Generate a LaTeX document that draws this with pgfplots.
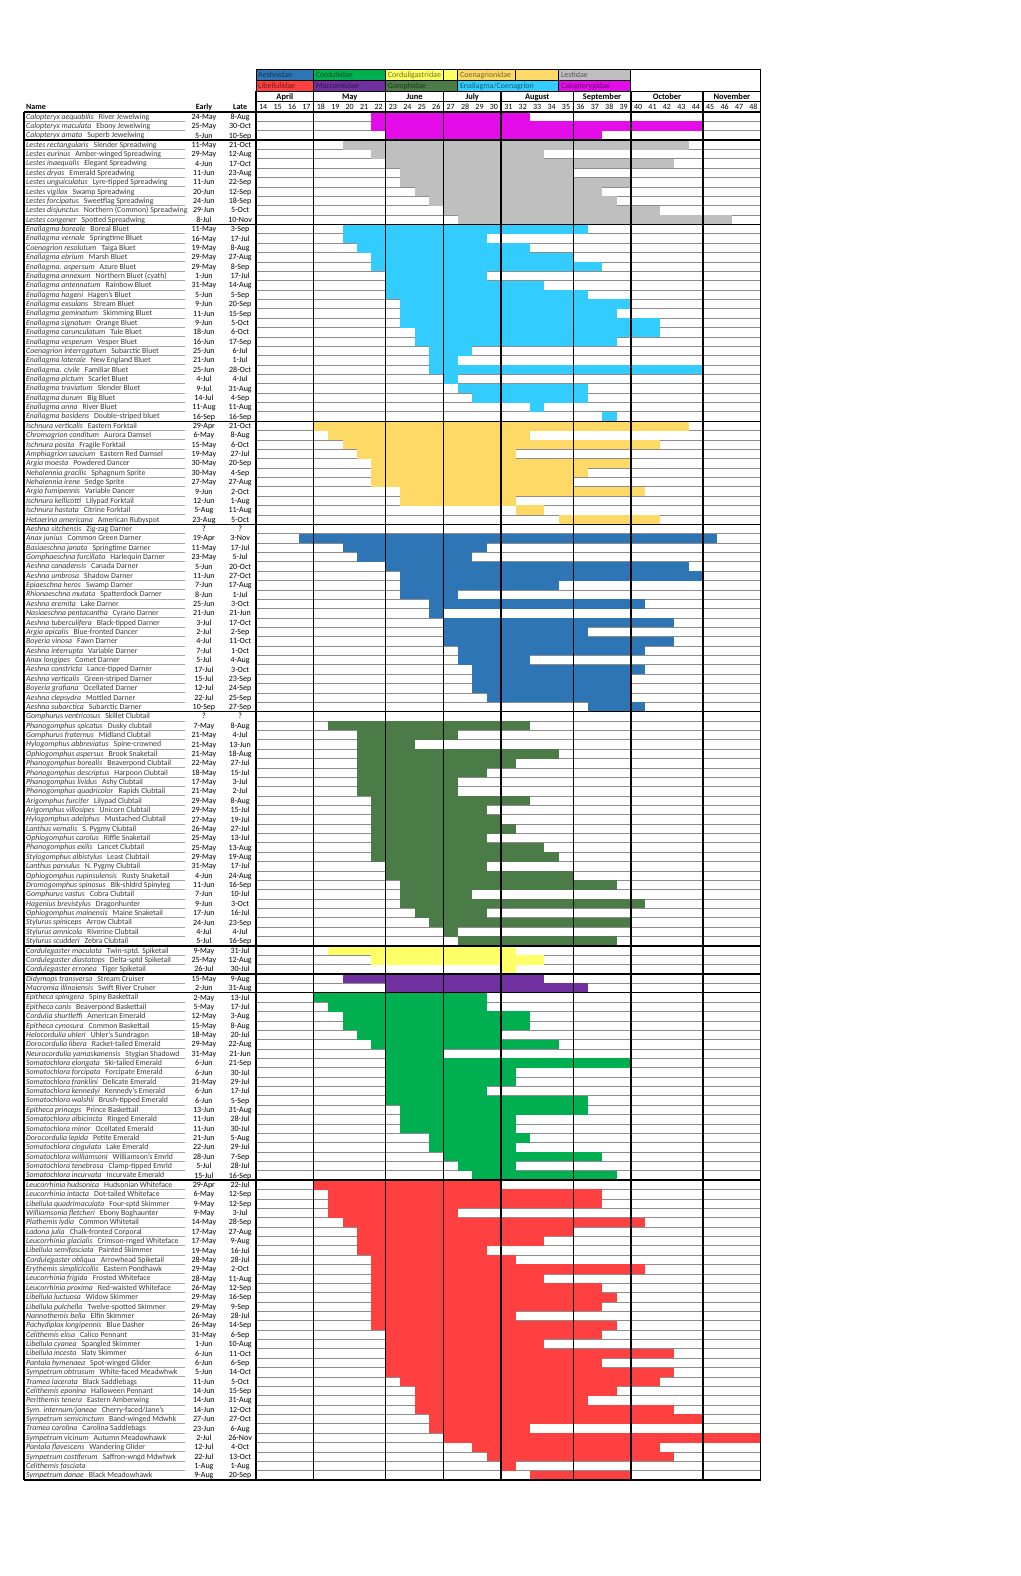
\documentclass[border=0pt]{standalone}
\usepackage{pgfplots}
\pgfplotsset{compat=1.18}
\usepackage{pgfplotstable}
\usepackage{fontspec}
\setmainfont{Carlito}

\definecolor{aesh}{HTML}{2E75B6}
\definecolor{cordu}{HTML}{00B050}
\definecolor{cordg}{HTML}{FFFF66}
\definecolor{coen}{HTML}{FFD966}
\definecolor{lest}{HTML}{BFBFBF}
\definecolor{libe}{HTML}{FF4040}
\definecolor{macro}{HTML}{7030A0}
\definecolor{gomph}{HTML}{4B7B46}
\definecolor{enal}{HTML}{33CCFF}
\definecolor{calo}{HTML}{E40CE8}

% species list: row, scientific name, common name, early, late
\pgfplotstableread[col sep=comma]{
row,sci,com,early,late
1,Calopteryx aequabilis,River Jewelwing,24-May,8-Aug
2,Calopteryx maculata,Ebony Jewelwing,25-May,30-Oct
3,Calopteryx amata,Superb Jewelwing,5-Jun,10-Sep
4,Lestes rectangularis,Slender Spreadwing,11-May,21-Oct
5,Lestes eurinus,Amber-winged Spreadwing,29-May,12-Aug
6,Lestes inaequalis,Elegant Spreadwing,4-Jun,17-Oct
7,Lestes dryas,Emerald Spreadwing,11-Jun,23-Aug
8,Lestes unguiculatus,Lyre-tipped Spreadwing,11-Jun,22-Sep
9,Lestes vigilax,Swamp Spreadwing,20-Jun,12-Sep
10,Lestes forcipatus,Sweetflag Spreadwing,24-Jun,18-Sep
11,Lestes disjunctus,Northern (Common) Spreadwing,29-Jun,5-Oct
12,Lestes congener,Spotted Spreadwing,8-Jul,10-Nov
13,Enallagma boreale,Boreal Bluet,11-May,3-Sep
14,Enallagma vernale,Springtime Bluet,16-May,17-Jul
15,Coenagrion resolutum,Taiga Bluet,19-May,8-Aug
16,Enallagma ebrium,Marsh Bluet,29-May,27-Aug
17,Enallagma. aspersum,Azure Bluet,29-May,8-Sep
18,Enallagma annexum,Northern Bluet (cyath),1-Jun,17-Jul
19,Enallagma antennatum,Rainbow Bluet,31-May,14-Aug
20,Enallagma hageni,Hagen's Bluet,5-Jun,5-Sep
21,Enallagma exsulans,Stream Bluet,9-Jun,20-Sep
22,Enallagma geminatum,Skimming Bluet,11-Jun,15-Sep
23,Enallagma signatum,Orange Bluet,9-Jun,5-Oct
24,Enallagma carunculatum,Tule Bluet,18-Jun,6-Oct
25,Enallagma vesperum,Vesper Bluet,16-Jun,17-Sep
26,Coenagrion interrogatum,Subarctic Bluet,25-Jun,6-Jul
27,Enallagma laterale,New England Bluet,21-Jun,1-Jul
28,Enallagma. civile,Familiar Bluet,25-Jun,28-Oct
29,Enallagma pictum,Scarlet Bluet,4-Jul,4-Jul
30,Enallagma traviatum,Slender Bluet,9-Jul,31-Aug
31,Enallagma durum,Big Bluet,14-Jul,4-Sep
32,Enallagma anna,River Bluet,11-Aug,11-Aug
33,Enallagma basidens,Double-striped bluet,16-Sep,16-Sep
34,Ischnura verticalis,Eastern Forktail,29-Apr,21-Oct
35,Chromagrion conditum,Aurora Damsel,6-May,8-Aug
36,Ischnura posita,Fragile Forktail,15-May,6-Oct
37,Amphiagrion saucium,Eastern Red Damsel,19-May,27-Jul
38,Argia moesta,Powdered Dancer,30-May,20-Sep
39,Nehalennia gracilis,Sphagnum Sprite,30-May,4-Sep
40,Nehalennia irene,Sedge Sprite,27-May,27-Aug
41,Argia fumipennis,Variable Dancer,9-Jun,2-Oct
42,Ischnura kellicotti,Lilypad Forktail,12-Jun,1-Aug
43,Ischnura hastata,Citrine Forktail,5-Aug,11-Aug
44,Hetaerina americana,American Rubyspot,23-Aug,5-Oct
45,Aeshna sitchensis,Zig-zag Darner,?,?
46,Anax junius,Common Green Darner,19-Apr,3-Nov
47,Basiaeschna janata,Springtime Darner,11-May,17-Jul
48,Gomphaeschna furcillata,Harlequin Darner,23-May,5-Jul
49,Aeshna canadensis,Canada Darner,5-Jun,20-Oct
50,Aeshna umbrosa,Shadow Darner,11-Jun,27-Oct
51,Epiaeschna heros,Swamp Darner,7-Jun,17-Aug
52,Rhionaeschna mutata,Spatterdock Darner,8-Jun,1-Jul
53,Aeshna eremita,Lake Darner,25-Jun,3-Oct
54,Nasiaeschna pentacantha,Cyrano Darner,21-Jun,21-Jun
55,Aeshna tuberculifera,Black-tipped Darner,3-Jul,17-Oct
56,Argia apicalis,Blue-fronted Dancer,2-Jul,2-Sep
57,Boyeria vinosa,Fawn Darner,4-Jul,11-Oct
58,Aeshna interrupta,Variable Darner,7-Jul,1-Oct
59,Anax longipes,Comet Darner,5-Jul,4-Aug
60,Aeshna constricta,Lance-tipped Darner,17-Jul,3-Oct
61,Aeshna verticalis,Green-striped Darner,15-Jul,23-Sep
62,Boyeria grafiana,Ocellated Darner,12-Jul,24-Sep
63,Aeshna clepsydra,Mottled Darner,22-Jul,25-Sep
64,Aeshna subarctica,Subarctic Darner,10-Sep,27-Sep
65,Gomphurus ventricosus,Skillet Clubtail,?,?
66,Phanogomphus spicatus,Dusky clubtail,7-May,8-Aug
67,Gomphurus fraternus,Midland Clubtail,21-May,4-Jul
68,Hylogomphus abbreviatus,Spine-crowned,21-May,13-Jun
69,Ophiogomphus aspersus,Brook Snaketail,21-May,18-Aug
70,Phanogomphus borealis,Beaverpond Clubtail,22-May,27-Jul
71,Phanogomphus descriptus,Harpoon Clubtail,18-May,15-Jul
72,Phanogomphus lividus,Ashy Clubtail,17-May,3-Jul
73,Phanogomphus quadricolor,Rapids Clubtail,21-May,2-Jul
74,Arigomphus furcifer,Lilypad Clubtail,29-May,8-Aug
75,Arigomphus villosipes,Unicorn Clubtail,29-May,15-Jul
76,Hylogomphus adelphus,Mustached Clubtail,27-May,19-Jul
77,Lanthus vernalis,S. Pygmy Clubtail,26-May,27-Jul
78,Ophiogomphus carolus,Riffle Snaketail,25-May,13-Jul
79,Phanogomphus exilis,Lancet Clubtail,25-May,13-Aug
80,Stylogomphus albistylus,Least Clubtail,29-May,19-Aug
81,Lanthus parvulus,N. Pygmy Clubtail,31-May,17-Jul
82,Ophiogomphus rupinsulensis,Rusty Snaketail,4-Jun,24-Aug
83,Dromogomphus spinosus,Blk-shldrd Spinyleg,11-Jun,16-Sep
84,Gomphurus vastus,Cobra Clubtail,7-Jun,10-Jul
85,Hagenius brevistylus,Dragonhunter,9-Jun,3-Oct
86,Ophiogomphus mainensis,Maine Snaketail,17-Jun,16-Jul
87,Stylurus spiniceps,Arrow Clubtail,24-Jun,23-Sep
88,Stylurus amnicola,Riverine Clubtail,4-Jul,4-Jul
89,Stylurus scudderi,Zebra Clubtail,5-Jul,16-Sep
90,Cordulegaster maculata,Twin-sptd. Spiketail,9-May,31-Jul
91,Cordulegaster diastatops,Delta-sptd Spiketail,25-May,12-Aug
92,Cordulegaster erronea,Tiger Spiketail,26-Jul,30-Jul
93,Didymops transversa,Stream Cruiser,15-May,9-Aug
94,Macromia illinoiensis,Swift River Cruiser,2-Jun,31-Aug
95,Epitheca spinigera,Spiny Baskettail,2-May,13-Jul
96,Epitheca canis,Beaverpond Baskettail,5-May,17-Jul
97,Cordulia shurtleffi,American Emerald,12-May,3-Aug
98,Epitheca cynosura,Common Baskettail,15-May,8-Aug
99,Helocordulia uhleri,Uhler's Sundragon,18-May,20-Jul
100,Dorocordulia libera,Racket-tailed Emerald,29-May,22-Aug
101,Neurocordulia yamaskanensis,Stygian Shadowd,31-May,21-Jun
102,Somatochlora elongata,Ski-tailed Emerald,6-Jun,21-Sep
103,Somatochlora forcipata,Forcipate Emerald,6-Jun,30-Jul
104,Somatochlora franklini,Delicate Emerald,31-May,29-Jul
105,Somatochlora kennedyi,Kennedy's Emerald,6-Jun,17-Jul
106,Somatochlora walshii,Brush-tipped Emerald,6-Jun,5-Sep
107,Epitheca princeps,Prince Baskettail,13-Jun,31-Aug
108,Somatochlora albicincta,Ringed Emerald,11-Jun,28-Jul
109,Somatochlora minor,Ocellated Emerald,11-Jun,30-Jul
110,Dorocordulia lepida,Petite Emerald,21-Jun,5-Aug
111,Somatochlora cingulata,Lake Emerald,22-Jun,29-Jul
112,Somatochlora williamsoni,Williamson's Emrld,28-Jun,7-Sep
113,Somatochlora tenebrosa,Clamp-tipped Emrld,5-Jul,28-Jul
114,Somatochlora incurvata,Incurvate Emerald,15-Jul,16-Sep
115,Leucorrhinia hudsonica,Hudsonian Whiteface,29-Apr,22-Jul
116,Leucorrhinia intacta,Dot-tailed Whiteface,6-May,12-Sep
117,Libellula quadrimaculata,Four-sptd Skimmer,9-May,12-Sep
118,Williamsonia fletcheri,Ebony Boghaunter,9-May,3-Jul
119,Plathemis lydia,Common Whitetail,14-May,28-Sep
120,Ladona julia,Chalk-fronted Corporal,17-May,27-Aug
121,Leucorrhinia glacialis,Crimson-rnged Whiteface,17-May,9-Aug
122,Libellula semifasciata,Painted Skimmer,19-May,16-Jul
123,Cordulegaster obliqua,Arrowhead Spiketail,28-May,28-Jul
124,Erythemis simplicicollis,Eastern Pondhawk,29-May,2-Oct
125,Leucorrhinia frigida,Frosted Whiteface,28-May,11-Aug
126,Leucorrhinia proxima,Red-waisted Whiteface,26-May,12-Sep
127,Libellula luctuosa,Widow Skimmer,29-May,16-Sep
128,Libellula pulchella,Twelve-spotted Skimmer,29-May,9-Sep
129,Nannothemis bella,Elfin Skimmer,26-May,28-Jul
130,Pachydiplax longipennis,Blue Dasher,26-May,14-Sep
131,Celithemis elisa,Calico Pennant,31-May,6-Sep
132,Libellula cyanea,Spangled Skimmer,1-Jun,10-Aug
133,Libellula incesta,Slaty Skimmer,6-Jun,11-Oct
134,Pantala hymenaea,Spot-winged Glider,6-Jun,6-Sep
135,Sympetrum obtrusum,White-faced Meadwhwk,5-Jun,14-Oct
136,Tramea lacerata,Black Saddlebags,11-Jun,5-Oct
137,Celithemis eponina,Halloween Pennant,14-Jun,15-Sep
138,Perithemis tenera,Eastern Amberwing,14-Jun,31-Aug
139,Sym. internum/janeae,Cherry-faced/Jane's,14-Jun,12-Oct
140,Sympetrum semicinctum,Band-winged Mdwhk,27-Jun,27-Oct
141,Tramea carolina,Carolina Saddlebags,23-Jun,6-Aug
142,Sympetrum vicinum,Autumn Meadowhawk,2-Jul,26-Nov
143,Pantala flavescens,Wandering Glider,12-Jul,4-Oct
144,Sympetrum costiferum,Saffron-wngd Mdwhwk,22-Jul,13-Oct
145,Celithemis fasciata,,1-Aug,1-Aug
146,Sympetrum danae,Black Meadowhawk,9-Aug,20-Sep
}\spp

% flight bars: row, first week column, end week column (0 = week 14)
\pgfplotstableread{
row s e
1 8 19
2 8 31
3 9 24
}\tcalo
\pgfplotstableread{
row s e
4 6 30
5 8 20
6 9 29
7 10 22
8 10 26
9 11 24
10 12 25
11 13 28
12 14 33
}\tlest
\pgfplotstableread{
row s e
13 6 23
14 6 16
15 7 19
16 8 22
17 8 24
18 9 16
19 9 20
20 9 23
21 10 26
22 10 25
23 10 28
24 11 28
25 11 25
26 12 15
27 12 14
28 12 31
29 13 14
30 14 23
31 15 23
32 19 20
33 24 25
}\tenal
\pgfplotstableread{
row s e
34 4 30
35 5 19
36 6 28
37 7 18
38 8 26
39 8 23
40 8 22
41 10 27
42 10 18
43 18 20
44 21 28
}\tcoen
\pgfplotstableread{
row s e
46 3 32
47 6 16
48 7 15
49 9 30
50 10 31
51 10 21
52 10 14
53 12 27
54 12 13
55 13 29
56 13 23
57 13 29
58 14 27
59 14 19
60 15 27
61 15 26
62 15 26
63 16 26
64 23 27
}\taesh
\pgfplotstableread{
row s e
66 5 19
67 7 14
68 7 11
69 7 21
70 7 18
71 7 16
72 7 14
73 7 14
74 8 19
75 8 16
76 8 17
77 8 18
78 8 16
79 8 20
80 8 21
81 9 16
82 9 22
83 10 25
84 10 15
85 10 27
86 11 16
87 12 26
88 13 14
89 14 25
}\tgomph
\pgfplotstableread{
row s e
90 5 18
91 8 20
92 17 18
}\tcordg
\pgfplotstableread{
row s e
93 6 20
94 9 23
}\tmacro
\pgfplotstableread{
row s e
95 4 16
96 5 16
97 6 19
98 6 19
99 7 17
100 8 21
101 9 13
102 9 26
103 9 18
104 9 18
105 9 16
106 9 23
107 10 23
108 10 18
109 10 18
110 12 19
111 12 18
112 13 24
113 14 18
114 15 25
}\tcordu
\pgfplotstableread{
row s e
115 4 17
116 5 24
117 5 24
118 5 14
119 6 27
120 7 22
121 7 20
122 7 16
123 8 18
124 8 27
125 8 20
126 8 24
127 8 25
128 8 24
129 8 18
130 8 25
131 9 24
132 9 20
133 9 29
134 9 24
135 9 29
136 10 28
137 11 25
138 11 23
139 11 29
140 12 31
141 12 19
142 13 35
143 15 28
144 16 29
145 17 18
146 19 26
}\tlibe

\pgfplotsset{
    flight/.style={draw=none, mark=none, forget plot,
        error bars/.cd, x dir=plus, x explicit, error mark=none,
        error bar style={line width=9.45pt, draw=#1}},
}
\newcommand\fontA{\fontsize{7.8}{9}\selectfont}
\newcommand\fontB{\fontsize{8}{9}\selectfont}
\newcommand\fontL{\fontsize{8}{9}\selectfont}
% legend cell: x0, x1, ytop, ybottom, colour, text, ycentre
\newcommand\legcell[7]{%
    \draw[fill=#5, line width=0.9pt] (axis cs:#1,#3) rectangle (axis cs:#2,#4);
    \node[anchor=west, inner sep=0pt, xshift=2pt, font=\fontL, text=#5!45!black,
          text height=5pt, text depth=0pt] at (axis cs:#1,#7) {#6};}

\begin{document}
\begin{tikzpicture}
\begin{axis}[
    scale only axis, width=504.7pt, height=1368pt,
    xmin=0, xmax=35, ymin=0.5, ymax=146.5, y dir=reverse,
    hide axis, clip=false,
]
\coordinate (tl) at (axis cs:0,0.5);

% row rules (under the bars)
\pgfplotsinvokeforeach{1.5,2.5,...,145.5}{
    \draw[black!45, line width=0.7pt] (axis cs:0,#1) -- (axis cs:35,#1);
    \draw[black!35, line width=1pt] (axis cs:-16.02,#1) -- (axis cs:-4.92,#1);
}

\addplot[flight=calo]  table[x=s, y=row, x error expr=\thisrow{e}-\thisrow{s}] {\tcalo};
\addplot[flight=lest]  table[x=s, y=row, x error expr=\thisrow{e}-\thisrow{s}] {\tlest};
\addplot[flight=enal]  table[x=s, y=row, x error expr=\thisrow{e}-\thisrow{s}] {\tenal};
\addplot[flight=coen]  table[x=s, y=row, x error expr=\thisrow{e}-\thisrow{s}] {\tcoen};
\addplot[flight=aesh]  table[x=s, y=row, x error expr=\thisrow{e}-\thisrow{s}] {\taesh};
\addplot[flight=gomph] table[x=s, y=row, x error expr=\thisrow{e}-\thisrow{s}] {\tgomph};
\addplot[flight=cordg] table[x=s, y=row, x error expr=\thisrow{e}-\thisrow{s}] {\tcordg};
\addplot[flight=macro] table[x=s, y=row, x error expr=\thisrow{e}-\thisrow{s}] {\tmacro};
\addplot[flight=cordu] table[x=s, y=row, x error expr=\thisrow{e}-\thisrow{s}] {\tcordu};
\addplot[flight=libe]  table[x=s, y=row, x error expr=\thisrow{e}-\thisrow{s}] {\tlibe};

% names and dates
\addplot[draw=none, mark=none, forget plot,
    point meta=explicit symbolic,
    nodes near coords={\textit{\pgfplotspointmeta}\hspace{5pt}\pgfplotstablegetelem{\coordindex}{com}\of\spp\pgfplotsretval},
    every node near coord/.append style={anchor=west, inner sep=0pt, font=\fontA, text=black!78,
        text height=4.9pt, text depth=0pt}]
    table[x expr=-15.95, y=row, meta=sci] {\spp};
\addplot[draw=none, mark=none, forget plot,
    point meta=explicit symbolic, nodes near coords={\pgfplotspointmeta},
    every node near coord/.append style={anchor=center, inner sep=0pt, font=\fontB, text=black,
        text height=5.2pt, text depth=0pt}]
    table[x expr=-3.61, y=row, meta=early] {\spp};
\addplot[draw=none, mark=none, forget plot,
    point meta=explicit symbolic, nodes near coords={\pgfplotspointmeta},
    every node near coord/.append style={anchor=center, inner sep=0pt, font=\fontB, text=black,
        text height=5.2pt, text depth=0pt}]
    table[x expr=-1.1, y=row, meta=late] {\spp};

% month separators
\pgfplotsinvokeforeach{0,4,9,13,17,22,26,31,35}{
    \draw[black, line width=1.3pt] (axis cs:#1,-1.74) -- (axis cs:#1,146.5);
}
% group separators and frame
\pgfplotsinvokeforeach{0.5,3.5,12.5,33.5,44.5,64.5,89.5,92.5,94.5,114.5,146.5}{
    \draw[black, line width=1.4pt] (axis cs:-16.09,#1) -- (axis cs:35,#1);
}
\draw[black, line width=1.4pt] (axis cs:-16.09,0.5) -- (axis cs:-16.09,146.5);

% header
\node[anchor=west, inner sep=0pt, font=\fontB\bfseries, text height=5.2pt, text depth=0pt] at (axis cs:-15.95,-0.03) {Name};
\node[inner sep=0pt, font=\fontB\bfseries, text height=5.2pt, text depth=0pt] at (axis cs:-3.61,-0.03) {Early};
\node[inner sep=0pt, font=\fontB\bfseries, text height=5.2pt, text depth=0pt] at (axis cs:-1.1,-0.03) {Late};
\draw[black, line width=0.9pt] (axis cs:0,-1.74) rectangle (axis cs:35,-0.60);
\tikzset{mon/.style={font=\fontsize{8.4}{9}\selectfont\bfseries, inner sep=0pt, text height=5.4pt, text depth=0pt}}
\node[mon] at (axis cs:2,-1.16) {April};
\node[mon] at (axis cs:6.5,-1.16) {May};
\node[mon] at (axis cs:11,-1.16) {June};
\node[mon] at (axis cs:15,-1.16) {July};
\node[mon] at (axis cs:19.5,-1.16) {August};
\node[mon] at (axis cs:24,-1.16) {September};
\node[mon] at (axis cs:28.5,-1.16) {October};
\node[mon] at (axis cs:33,-1.16) {November};
\pgfplotsinvokeforeach{14,...,48}{
    \node[font=\fontL, inner sep=0pt, text height=5.2pt, text depth=0pt] at (axis cs:{#1-13.5},-0.03) {#1};
}

% family key
\legcell{0}{4}{-4.06}{-2.84}{aesh}{Aeshnidae}{-3.45}
\legcell{4}{9}{-4.06}{-2.84}{cordu}{Corduliidae}{-3.45}
\legcell{9}{13}{-4.06}{-2.84}{cordg}{Corduligastridae}{-3.45}
\legcell{13}{14}{-4.06}{-2.84}{cordg}{}{-3.45}
\legcell{14}{18}{-4.06}{-2.84}{coen}{Coenagrionidae}{-3.45}
\legcell{18}{21}{-4.06}{-2.84}{coen}{}{-3.45}
\legcell{21}{26}{-4.06}{-2.84}{lest}{Lestidae}{-3.45}
\legcell{0}{4}{-2.84}{-1.74}{libe}{Libellulidae}{-2.29}
\legcell{4}{9}{-2.84}{-1.74}{macro}{Macromiidae}{-2.29}
\legcell{9}{14}{-2.84}{-1.74}{gomph}{Gomphidae}{-2.29}
\legcell{14}{21}{-2.84}{-1.74}{enal}{Enallagma/Coenagrion}{-2.29}
\legcell{21}{26}{-2.84}{-1.74}{calo}{Calopterygidae}{-2.29}
\legcell{26}{35}{-4.06}{-1.74}{white}{}{-2.9}
\end{axis}
\pgfresetboundingbox
\path[use as bounding box] ([shift={(-256pt,112pt)}]tl) rectangle ++(1020pt,-1576pt);
\end{tikzpicture}
\end{document}
